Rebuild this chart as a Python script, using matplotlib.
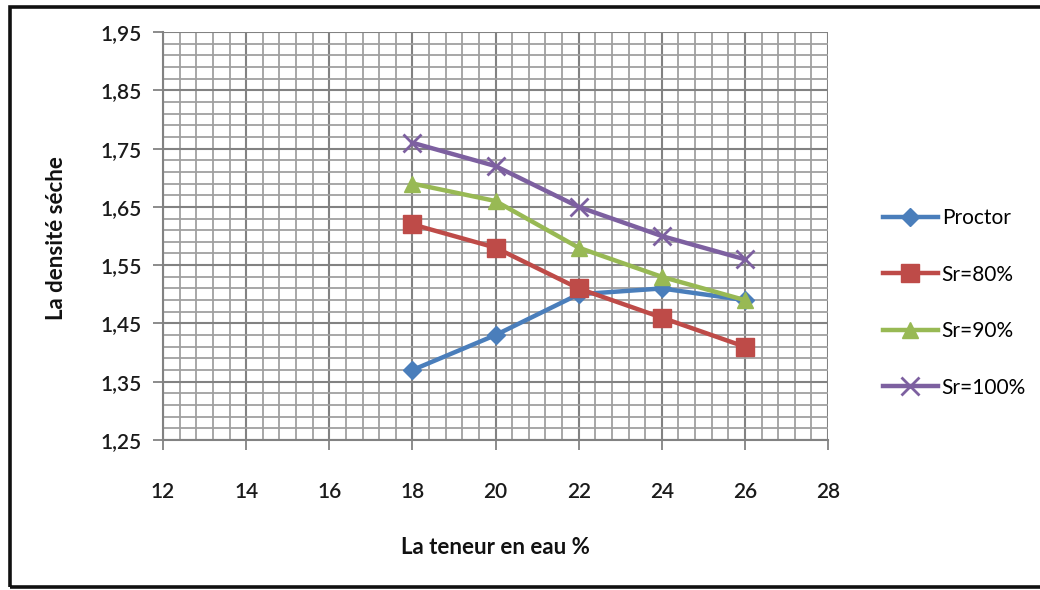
import matplotlib
matplotlib.use("Agg")
import matplotlib.pyplot as plt
from matplotlib.ticker import MultipleLocator, FuncFormatter
from matplotlib.patches import Rectangle

# Water content (%) and dry density for each compaction series
teneur = [18, 20, 22, 24, 26]
proctor = [1.37, 1.43, 1.50, 1.51, 1.49]
sr80 = [1.62, 1.58, 1.51, 1.46, 1.41]
sr90 = [1.69, 1.66, 1.58, 1.53, 1.49]
sr100 = [1.76, 1.72, 1.65, 1.60, 1.56]

series = [
    ("Proctor", proctor, "#4A7EBB", "D", 9),
    ("Sr=80%", sr80, "#BE4B48", "s", 13),
    ("Sr=90%", sr90, "#98B954", "^", 11),
    ("Sr=100%", sr100, "#7D60A0", "x", 13),
]

plt.rcParams["font.family"] = ["Lato", "DejaVu Sans"]

fig = plt.figure(figsize=(10.4, 5.9), dpi=100)
ax = fig.add_axes([163 / 1040, 1 - 440 / 590, 665 / 1040, 408 / 590])

for name, vals, col, mk, ms in series:
    ax.plot(teneur, vals, color=col, lw=3.2, marker=mk, ms=ms,
            mew=2 if mk == "x" else 1, mfc=col, mec=col, label=name,
            solid_joinstyle="round", zorder=3)

ax.set_xlim(12, 28)
ax.set_ylim(1.25, 1.95)
ax.xaxis.set_major_locator(MultipleLocator(2))
ax.xaxis.set_minor_locator(MultipleLocator(0.4))
ax.yaxis.set_major_locator(MultipleLocator(0.1, offset=0.05))
ax.yaxis.set_minor_locator(MultipleLocator(0.02, offset=0.01))
ax.yaxis.set_major_formatter(FuncFormatter(lambda v, p: f"{v:.2f}".replace(".", ",")))
ax.xaxis.set_major_formatter(FuncFormatter(lambda v, p: f"{v:.0f}"))

ax.grid(which="major", color="#828282", lw=1.5)
ax.grid(which="minor", color="#a0a0a0", lw=1.3)
ax.set_axisbelow(True)
for s in ax.spines.values():
    s.set_visible(False)
ax.spines["left"].set_visible(True)
ax.spines["bottom"].set_visible(True)
ax.spines["left"].set_color("#828282")
ax.spines["bottom"].set_color("#828282")
ax.spines["left"].set_linewidth(1.5)
ax.spines["bottom"].set_linewidth(1.5)

ax.tick_params(which="major", direction="out", length=7, width=1.3,
               color="#828282", labelsize=15, labelcolor="#1a1a1a")
ax.tick_params(which="minor", length=0)
ax.tick_params(axis="x", pad=23)
ax.tick_params(axis="y", pad=8)
for lab in ax.get_xticklabels() + ax.get_yticklabels():
    lab.set_fontweight("semibold")

fig.text(495 / 1040, 1 - 548 / 590, "La teneur en eau %", ha="center", va="center",
         fontsize=16, fontweight="bold", color="#111111")
fig.text(57 / 1040, 1 - 238 / 590, "La densité séche", ha="center", va="center",
         rotation=90, fontsize=16, fontweight="bold", color="#111111")

fig.legend(loc="center left", bbox_to_anchor=(875 / 1040, 1 - 303 / 590),
           frameon=False, fontsize=15, labelspacing=1.75, handlelength=2.6,
           handletextpad=0.2, borderaxespad=0)

# Outer frame of the chart
fig.add_artist(Rectangle((10 / 1040, 3 / 590), 1.2, 580 / 590, transform=fig.transFigure,
                         fill=False, edgecolor="#111111", lw=2.6))

fig.savefig("out.png", dpi=100)
